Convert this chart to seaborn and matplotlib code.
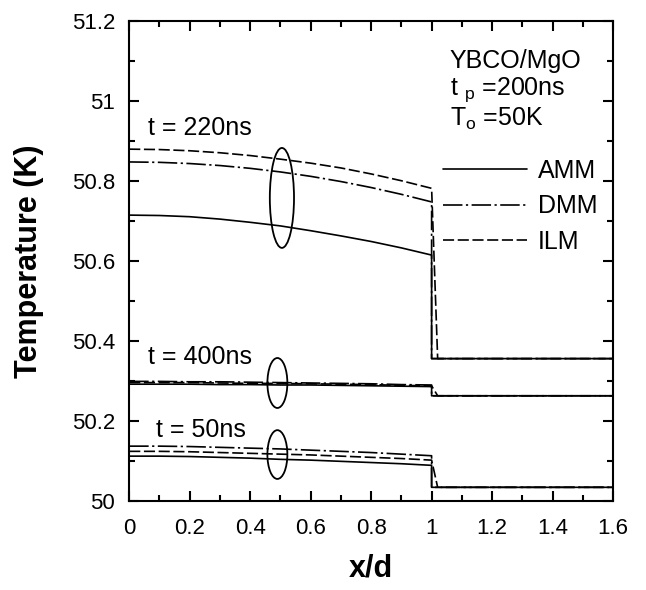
import matplotlib
matplotlib.use("Agg")
import matplotlib.pyplot as plt
from matplotlib.patches import Ellipse
from matplotlib.lines import Line2D
import seaborn as sns
import pandas as pd

# Position across the film (x/d from 0 to 1), then the substrate out to 1.6
x_film = [0.0, 0.1, 0.2, 0.3, 0.4, 0.5, 0.6, 0.7, 0.8, 0.9, 1.0]
x_end = 1.6
# x where each boundary model's curve reaches the substrate temperature
x_drop = {"AMM": 1.0, "DMM": 1.0, "ILM": 1.02}

# t = 220 ns
amm_220 = [50.715, 50.714, 50.711, 50.705, 50.697, 50.688, 50.676, 50.663, 50.649, 50.633, 50.615]
dmm_220 = [50.848, 50.847, 50.844, 50.839, 50.832, 50.823, 50.812, 50.799, 50.784, 50.767, 50.748]
ilm_220 = [50.880, 50.879, 50.876, 50.871, 50.864, 50.855, 50.845, 50.833, 50.818, 50.801, 50.782]
sub_220 = 50.356

# t = 400 ns
amm_400 = [50.292, 50.292, 50.292, 50.291, 50.291, 50.290, 50.290, 50.289, 50.288, 50.287, 50.286]
dmm_400 = [50.299, 50.299, 50.298, 50.298, 50.297, 50.296, 50.295, 50.294, 50.293, 50.291, 50.290]
ilm_400 = [50.296, 50.296, 50.296, 50.295, 50.294, 50.294, 50.293, 50.292, 50.291, 50.289, 50.288]
sub_400 = 50.263

# t = 50 ns
amm_50 = [50.112, 50.112, 50.111, 50.109, 50.107, 50.104, 50.102, 50.099, 50.096, 50.093, 50.089]
dmm_50 = [50.137, 50.137, 50.136, 50.134, 50.132, 50.130, 50.127, 50.124, 50.121, 50.117, 50.113]
ilm_50 = [50.124, 50.124, 50.123, 50.121, 50.119, 50.117, 50.115, 50.112, 50.109, 50.106, 50.102]
sub_50 = 50.034

times = ["t = 220ns", "t = 400ns", "t = 50ns"]
series = {
    "t = 220ns": ({"AMM": amm_220, "DMM": dmm_220, "ILM": ilm_220}, sub_220),
    "t = 400ns": ({"AMM": amm_400, "DMM": dmm_400, "ILM": ilm_400}, sub_400),
    "t = 50ns": ({"AMM": amm_50, "DMM": dmm_50, "ILM": ilm_50}, sub_50),
}

x_ticks = [0, 0.2, 0.4, 0.6, 0.8, 1.0, 1.2, 1.4, 1.6]
x_ticklabels = ["0", "0.2", "0.4", "0.6", "0.8", "1", "1.2", "1.4", "1.6"]
y_ticks = [50, 50.2, 50.4, 50.6, 50.8, 51.0, 51.2]
y_ticklabels = ["50", "50.2", "50.4", "50.6", "50.8", "51", "51.2"]

sns.set_theme(style="ticks")
plt.rcParams.update({
    "font.family": ["Liberation Sans", "DejaVu Sans"],
    "mathtext.fontset": "custom",
    "mathtext.rm": "Liberation Sans",
    "mathtext.it": "Liberation Sans",
    "lines.scale_dashes": False,
    "axes.linewidth": 1.5,
    "axes.edgecolor": "black",
    "axes.labelcolor": "black",
    "text.color": "black",
    "xtick.color": "black",
    "ytick.color": "black",
})

styles = {
    "AMM": "-",
    "DMM": (0, (14, 2.5, 1.6, 2.5)),
    "ILM": (0, (8, 2.6)),
}

rows = []
for t in times:
    temps, sub = series[t]
    for model, vals in temps.items():
        xs = x_film + [x_drop[model], x_end]
        ys = vals + [sub, sub]
        for i, (xv, yv) in enumerate(zip(xs, ys)):
            rows.append({"time": t, "model": model, "order": i, "x": xv, "T": yv})
df = pd.DataFrame(rows)

fig = plt.figure(figsize=(6.46, 5.90), dpi=100)
ax = fig.add_axes([0.200, 0.151, 0.749, 0.813])

for (t, model), g in df.groupby(["time", "model"], sort=False):
    sns.lineplot(data=g.sort_values("order"), x="x", y="T", ax=ax, sort=False,
                 estimator=None, color="black", linewidth=1.2,
                 linestyle=styles[model], legend=False)

ax.set_xlim(0, 1.6)
ax.set_ylim(50, 51.2)
ax.set_xticks(x_ticks, x_ticklabels)
ax.set_yticks(y_ticks, y_ticklabels)
ax.set_xticks([0.1, 0.3, 0.5, 0.7, 0.9, 1.1, 1.3, 1.5], minor=True)
ax.set_yticks([50.1, 50.3, 50.5, 50.7, 50.9, 51.1], minor=True)
ax.tick_params(which="both", direction="in", top=True, right=True, width=1.5,
               labelsize=16)
ax.tick_params(which="major", length=7)
ax.tick_params(which="minor", length=4.5)
ax.tick_params(axis="x", which="major", pad=12)
ax.tick_params(axis="y", which="major", pad=10)
for s in ax.spines.values():
    s.set_visible(True)

ax.set_xlabel("x/d", fontsize=22, fontweight="bold", labelpad=11)
ax.set_ylabel("Temperature (K)", fontsize=22, fontweight="bold", labelpad=20)

# Ellipses grouping the three model curves at each time
ax.add_patch(Ellipse((0.505, 50.758), 0.08, 0.25, fill=False, ec="black", lw=1.3))
ax.add_patch(Ellipse((0.49, 50.295), 0.066, 0.125, fill=False, ec="black", lw=1.3))
ax.add_patch(Ellipse((0.49, 50.116), 0.066, 0.122, fill=False, ec="black", lw=1.3))

ax.text(0.063, 50.932, "t = 220ns", fontsize=18, va="center", ha="left")
ax.text(0.063, 50.36, "t = 400ns", fontsize=18, va="center", ha="left")
ax.text(0.089, 50.177, "t = 50ns", fontsize=18, va="center", ha="left")

ax.text(1.06, 51.10, "YBCO/MgO", fontsize=18, va="center", ha="left")
ax.text(1.06, 51.03, r"t $_{\mathrm{p}}$ =200ns", fontsize=18, va="center", ha="left")
ax.text(1.06, 50.955, r"T$_{\mathrm{o}}$ =50K", fontsize=18, va="center", ha="left")

handles = [Line2D([], [], color="black", lw=1.2, linestyle=styles[m]) for m in ["AMM", "DMM", "ILM"]]
ax.legend(handles, ["AMM", "DMM", "ILM"], loc="upper left",
          bbox_to_anchor=(443 / 646, 1 - 159 / 590), bbox_transform=fig.transFigure,
          frameon=False, fontsize=18, handlelength=3.36, handletextpad=0.44,
          labelspacing=0.45, borderpad=0, borderaxespad=0)

fig.savefig("out.png", dpi=100)
